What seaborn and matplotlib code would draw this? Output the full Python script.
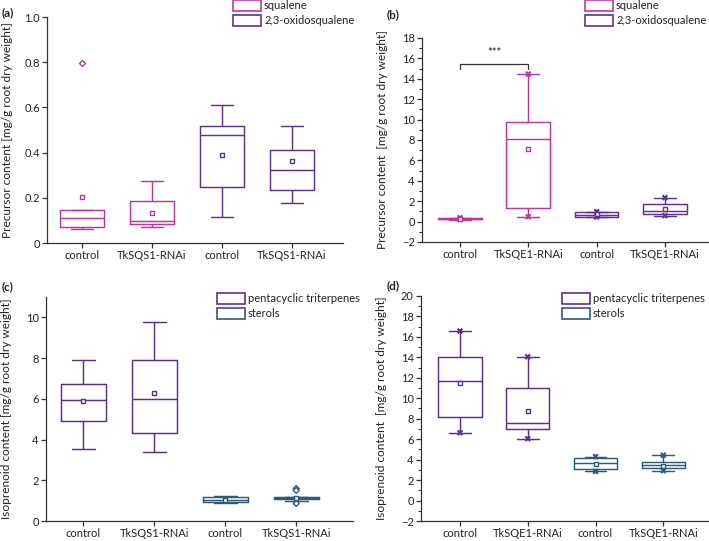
import matplotlib.pyplot as plt
import matplotlib.patches as mpatches
from matplotlib.ticker import MultipleLocator
import pandas as pd
import seaborn as sns

sns.set_style("ticks")
plt.rcParams['font.family'] = ['Lato', 'DejaVu Sans']

# colours
c_squalene = '#b83a9f'
c_oxido = '#62308f'
c_penta = '#5d2e92'
c_sterol = '#2f5b7a'

# box values: whisker low, Q1, median, Q3, whisker high
# (a) precursors, TkSQS1
a_groups = ['control', 'TkSQS1-RNAi', 'control', 'TkSQS1-RNAi']
a_compounds = ['squalene', 'squalene', '2,3-oxidosqualene', '2,3-oxidosqualene']
a_stats = [[0.063, 0.069, 0.112, 0.146, 0.146],
           [0.071, 0.084, 0.096, 0.184, 0.273],
           [0.113, 0.246, 0.479, 0.519, 0.609],
           [0.177, 0.233, 0.323, 0.413, 0.519]]
a_means = [0.202, 0.133, 0.388, 0.361]
a_outliers = [[0.795], [], [], []]
a_yticks = [0, 0.2, 0.4, 0.6, 0.8, 1.0]
a_yticklabels = ['0', '0.2', '0.4', '0.6', '0.8', '1.0']

# (b) precursors, TkSQE1
b_groups = ['control', 'TkSQE1-RNAi', 'control', 'TkSQE1-RNAi']
b_compounds = a_compounds
b_stats = [[0.20, 0.23, 0.27, 0.32, 0.38],
           [0.48, 1.37, 8.05, 9.78, 14.47],
           [0.45, 0.50, 0.62, 0.90, 0.98],
           [0.58, 0.71, 1.04, 1.76, 2.35]]
b_means = [0.28, 7.13, 0.72, 1.24]
b_yticks = list(range(-2, 19, 2))
b_bracket = [15.0, 15.5]
b_stars_y = 16.0

# (c) isoprenoids, TkSQS1
c_groups = a_groups
c_compounds = ['pentacyclic triterpenes', 'pentacyclic triterpenes', 'sterols', 'sterols']
c_stats = [[3.56, 4.93, 5.92, 6.75, 7.93],
           [3.37, 4.32, 5.99, 7.91, 9.79],
           [0.86, 0.92, 1.04, 1.17, 1.22],
           [0.98, 1.06, 1.12, 1.17, 1.17]]
c_means = [5.89, 6.28, 1.03, 1.12]
c_outliers = [[], [], [], [1.59, 1.50, 0.86]]
c_yticks = [0, 2, 4, 6, 8, 10]

# (d) isoprenoids, TkSQE1
d_groups = b_groups
d_compounds = c_compounds
d_stats = [[6.63, 8.18, 11.70, 13.99, 16.58],
           [6.05, 6.99, 7.63, 11.05, 14.06],
           [2.85, 3.07, 3.65, 4.17, 4.30],
           [2.92, 3.14, 3.43, 3.75, 4.43]]
d_means = [11.47, 8.79, 3.60, 3.40]
d_yticks = list(range(-2, 21, 2))

TEXT = '#222222'
AXC = '#333333'


def hollow(ax, start):
    # turn the new scatter collections into open markers
    for coll in ax.collections[start:]:
        fc = coll.get_facecolors()
        coll.set_edgecolors(fc)
        coll.set_facecolors('white')


def draw_panel(ax, groups, compounds, stats, means, palette, outliers=None,
               end_markers=False):
    keys = [f'{c} / {g}' for c, g in zip(compounds, groups)]
    hue_order = list(dict.fromkeys(compounds))
    box_df = pd.DataFrame([(k, c, v) for k, c, s in zip(keys, compounds, stats) for v in s],
                          columns=['key', 'compound', 'value'])
    sns.boxplot(data=box_df, x='key', y='value', hue='compound', order=keys,
                hue_order=hue_order, palette=palette, fill=False, whis=(0, 100),
                width=0.64, linewidth=1.05, showfliers=False, legend=False, ax=ax)

    if end_markers:
        ends = pd.DataFrame([(k, c, s[i]) for k, c, s in zip(keys, compounds, stats) for i in (0, 4)],
                            columns=['key', 'compound', 'value'])
        sns.stripplot(data=ends, x='key', y='value', hue='compound', order=keys,
                      hue_order=hue_order, palette=palette, jitter=False, marker='X',
                      size=4.5, linewidth=0, legend=False, ax=ax)

    if outliers is not None:
        out = pd.DataFrame([(k, c, v) for k, c, o in zip(keys, compounds, outliers) for v in o],
                           columns=['key', 'compound', 'value'])
        n = len(ax.collections)
        sns.stripplot(data=out, x='key', y='value', hue='compound', order=keys,
                      hue_order=hue_order, palette=palette, jitter=False, marker='D',
                      size=3.0, linewidth=1.0, legend=False, ax=ax)
        hollow(ax, n)

    mean_df = pd.DataFrame({'key': keys, 'compound': compounds, 'value': means})
    n = len(ax.collections)
    sns.stripplot(data=mean_df, x='key', y='value', hue='compound', order=keys,
                  hue_order=hue_order, palette=palette, jitter=False, marker='s',
                  size=3.0, linewidth=1.0, legend=False, ax=ax)
    hollow(ax, n)

    ax.set_xticks(range(len(groups)))
    ax.set_xticklabels(groups)
    ax.set_xlabel('')
    sns.despine(ax=ax)
    for sp in ('left', 'bottom'):
        ax.spines[sp].set_linewidth(0.9)
        ax.spines[sp].set_color(AXC)
    ax.tick_params(which='major', direction='out', length=3.5, width=0.9, color=AXC,
                   labelsize=8, labelcolor=TEXT, pad=1.5)
    ax.tick_params(which='minor', direction='out', length=2.2, width=0.8, color=AXC)

    handles = [mpatches.Patch(facecolor='white', edgecolor=palette[h], linewidth=1.2)
               for h in hue_order]
    return handles, hue_order


fig = plt.figure(figsize=(7.09, 5.41), dpi=100)
W, H = 709, 541


def add_axes(left, top, right, bottom):
    return fig.add_axes([left / W, 1 - bottom / H, (right - left) / W, (bottom - top) / H])


def legend(ax, handles, labels, x, y):
    ax.legend(handles, labels, loc='upper left', bbox_to_anchor=(x / W, 1 - y / H),
              bbox_transform=fig.transFigure, frameon=False, fontsize=8,
              handlelength=2.5, handleheight=1.2, handletextpad=0.3,
              labelspacing=0.3, borderaxespad=0, borderpad=0, labelcolor=TEXT)


def ylabel(ax, text, left, right):
    ax.set_ylabel(text, fontsize=8.6, color=TEXT)
    ax.yaxis.set_label_coords(-34 / (right - left), 0.5)


# (a)
ax_a = add_axes(47, 17, 343, 243)
h, l = draw_panel(ax_a, a_groups, a_compounds, a_stats, a_means,
                  {'squalene': c_squalene, '2,3-oxidosqualene': c_oxido}, outliers=a_outliers)
ax_a.set_ylim(0, 1.0)
ax_a.set_yticks(a_yticks)
ax_a.set_yticklabels(a_yticklabels)
ax_a.set_xlim(-0.5, 3.73)
ylabel(ax_a, 'Precursor content [mg/g root dry weight]', 47, 343)
legend(ax_a, h, l, 233, 0)

# (b)
ax_b = add_axes(421.7, 38, 708, 242)
h, l = draw_panel(ax_b, b_groups, b_compounds, b_stats, b_means,
                  {'squalene': c_squalene, '2,3-oxidosqualene': c_oxido}, end_markers=True)
ax_b.set_ylim(-2, 18)
ax_b.set_yticks(b_yticks)
ax_b.yaxis.set_minor_locator(MultipleLocator(1))
ax_b.set_xlim(-0.56, 3.63)
ax_b.plot([0, 0, 1, 1], [b_bracket[0], b_bracket[1], b_bracket[1], b_bracket[0]],
          color=AXC, linewidth=0.9)
ax_b.text(0.5, b_stars_y, '***', ha='center', va='bottom', fontsize=8, color=TEXT)
ylabel(ax_b, 'Precursor content  [mg/g root dry weight]', 421.7, 708)
legend(ax_b, h, l, 585, 0)

# (c)
ax_c = add_axes(45.7, 297, 353, 521)
h, l = draw_panel(ax_c, c_groups, c_compounds, c_stats, c_means,
                  {'pentacyclic triterpenes': c_penta, 'sterols': c_sterol}, outliers=c_outliers)
ax_c.set_ylim(0, 11)
ax_c.set_yticks(c_yticks)
ax_c.set_xlim(-0.53, 3.8)
ylabel(ax_c, 'Isoprenoid content [mg/g root dry weight]', 45.7, 353)
legend(ax_c, h, l, 217, 293)

# (d)
ax_d = add_axes(420.7, 296, 708, 521)
h, l = draw_panel(ax_d, d_groups, d_compounds, d_stats, d_means,
                  {'pentacyclic triterpenes': c_penta, 'sterols': c_sterol}, end_markers=True)
ax_d.set_ylim(-2, 20)
ax_d.set_yticks(d_yticks)
ax_d.yaxis.set_minor_locator(MultipleLocator(1))
ax_d.set_xlim(-0.58, 3.66)
ylabel(ax_d, 'Isoprenoid content  [mg/g root dry weight]', 420.7, 708)
legend(ax_d, h, l, 562, 293)

for lab, x, y in [('(a)', 2, 13), ('(b)', 387, 15), ('(c)', 2, 287), ('(d)', 387, 286)]:
    fig.text(x / W, 1 - y / H, lab, fontsize=8.5, fontweight='bold', va='center', color=TEXT)

fig.savefig('out.png', dpi=100)
